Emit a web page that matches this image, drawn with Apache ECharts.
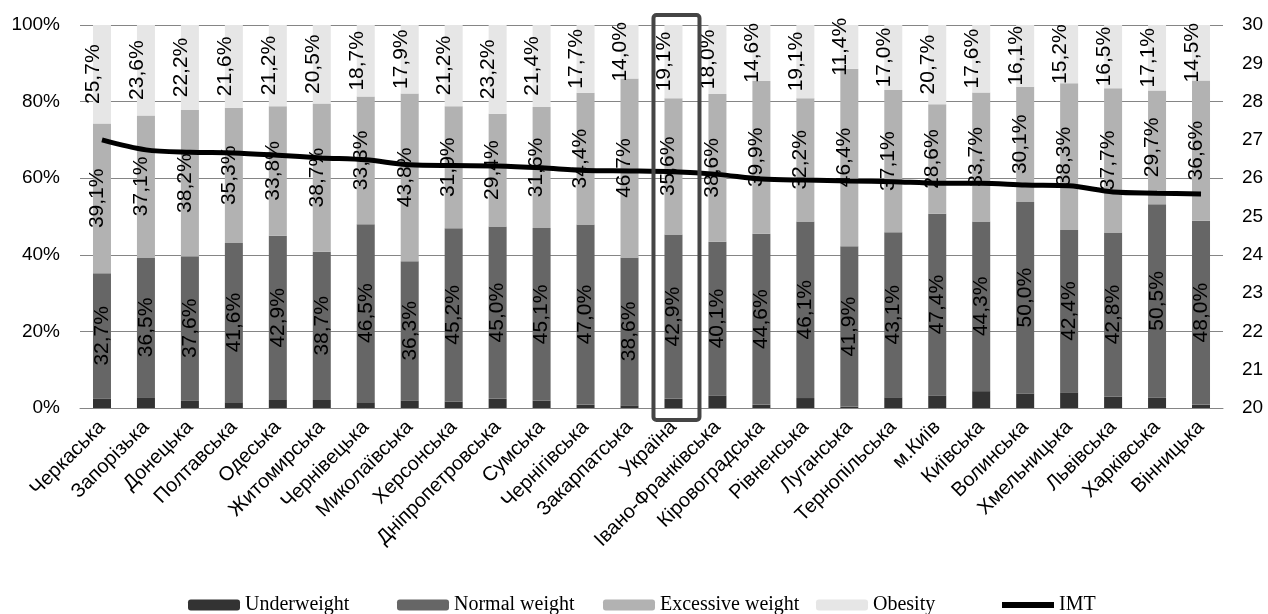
<!DOCTYPE html>
<html>
<head>
<meta charset="utf-8">
<script src="https://cdn.jsdelivr.net/npm/echarts@6/dist/echarts.min.js"></script>
<style>
  html, body { margin: 0; padding: 0; background: #fff; }
  #chart { width: 1268px; height: 614px; }
</style>
</head>
<body>
<div id="chart"></div>
<script>
// Regions of Ukraine, sorted by mean body-mass index (IMT)
const regions = ['Черкаська', 'Запорізька', 'Донецька', 'Полтавська', 'Одеська', 'Житомирська',
  'Чернівецька', 'Миколаївська', 'Херсонська', 'Дніпропетровська', 'Сумська', 'Чернігівська',
  'Закарпатська', 'Україна', 'Івано-Франківська', 'Кіровоградська', 'Рівненська', 'Луганська',
  'Тернопільська', 'м.Київ', 'Київська', 'Волинська', 'Хмельницька', 'Львівська', 'Харківська', 'Вінницька'];

// Share of people in each weight group, %
const underweight = [2.5, 2.8, 2.0, 1.5, 2.1, 2.1, 1.5, 2.0, 1.7, 2.4, 1.9, 0.9, 0.7,
  2.4, 3.3, 0.9, 2.6, 0.3, 2.8, 3.3, 4.4, 3.8, 4.1, 3.0, 2.7, 0.9];
const normalWeight = [32.7, 36.5, 37.6, 41.6, 42.9, 38.7, 46.5, 36.3, 45.2, 45.0, 45.1, 47.0, 38.6,
  42.9, 40.1, 44.6, 46.1, 41.9, 43.1, 47.4, 44.3, 50.0, 42.4, 42.8, 50.5, 48.0];
const excessiveWeight = [39.1, 37.1, 38.2, 35.3, 33.8, 38.7, 33.3, 43.8, 31.9, 29.4, 31.6, 34.4, 46.7,
  35.6, 38.6, 39.9, 32.2, 46.4, 37.1, 28.6, 33.7, 30.1, 38.3, 37.7, 29.7, 36.6];
const obesity = [25.7, 23.6, 22.2, 21.6, 21.2, 20.5, 18.7, 17.9, 21.2, 23.2, 21.4, 17.7, 14.0,
  19.1, 18.0, 14.6, 19.1, 11.4, 17.0, 20.7, 17.6, 16.1, 15.2, 16.5, 17.1, 14.5];

// Mean body-mass index
const imt = [27.0, 26.74, 26.68, 26.66, 26.6, 26.53, 26.48, 26.35, 26.33, 26.32, 26.27, 26.2, 26.19,
  26.17, 26.1, 25.98, 25.95, 25.93, 25.91, 25.87, 25.87, 25.82, 25.8, 25.64, 25.61, 25.59];

const leftTicks = { min: 0, max: 100, interval: 20 };
const rightTicks = { min: 20, max: 30, interval: 1 };
const highlighted = 'Україна';

const sans = 'Liberation Sans, Arial, sans-serif';
const serif = 'Liberation Serif, Times New Roman, serif';

const fmt = p => p.value.toFixed(1).replace('.', ',') + '%';

function barSeries(name, data, color, withLabel, labelOffset) {
  return {
    name: name,
    type: 'bar',
    stack: 'weight',
    data: data,
    barWidth: 18,
    itemStyle: { color: color },
    z: 2,
    label: withLabel ? {
      show: true,
      position: 'inside',
      rotate: 90,
      offset: labelOffset,
      formatter: fmt,
      color: '#000',
      fontFamily: sans,
      fontSize: 21
    } : { show: false }
  };
}

function legendAt(name, left, isLine) {
  return {
    data: [isLine ? { name: name, icon: 'rect', itemStyle: { color: '#000' } } : name],
    left: left,
    top: 595,
    padding: 0,
    itemWidth: 52,
    itemHeight: isLine ? 6 : 11,
    itemGap: 6,
    textStyle: { fontFamily: serif, fontSize: 20, color: '#000' }
  };
}

const chart = echarts.init(document.getElementById('chart'), null, { renderer: 'canvas' });

chart.setOption({
  animation: false,
  backgroundColor: '#fff',
  grid: { left: 80, right: 45, top: 25, bottom: 206 },
  legend: [
    legendAt('Underweight', 188),
    legendAt('Normal weight', 397),
    legendAt('Excessive weight', 603),
    legendAt('Obesity', 816),
    legendAt('IMT', 1002, true)
  ],
  xAxis: {
    type: 'category',
    data: regions,
    axisTick: { show: false },
    axisLine: { lineStyle: { color: '#858585', width: 1 } },
    axisLabel: {
      rotate: 45,
      interval: 0,
      margin: 16,
      color: '#000',
      fontFamily: sans,
      fontSize: 20
    }
  },
  yAxis: [
    {
      type: 'value',
      min: leftTicks.min, max: leftTicks.max, interval: leftTicks.interval,
      axisLine: { show: false },
      axisTick: { show: false },
      splitLine: { lineStyle: { color: '#858585', width: 1 } },
      axisLabel: { formatter: '{value}%', margin: 20, color: '#000', fontFamily: sans, fontSize: 19 }
    },
    {
      type: 'value',
      min: rightTicks.min, max: rightTicks.max, interval: rightTicks.interval,
      axisLine: { show: false },
      axisTick: { show: false },
      splitLine: { show: false },
      axisLabel: { margin: 19, color: '#000', fontFamily: sans, fontSize: 19 }
    }
  ],
  series: [
    barSeries('Underweight', underweight, '#333333', false),
    barSeries('Normal weight', normalWeight, '#666666', true, [0, 0]),
    barSeries('Excessive weight', excessiveWeight, '#b2b2b2', true, [0, -5]),
    barSeries('Obesity', obesity, '#e6e6e6', true, [0, -9]),
    {
      name: 'IMT',
      type: 'line',
      yAxisIndex: 1,
      data: imt,
      smooth: 0.3,
      symbol: 'none',
      z: 10,
      lineStyle: { color: '#000', width: 5 },
      itemStyle: { color: '#000' }
    }
  ]
});

// Frame around the national average column
const cx = chart.convertToPixel({ xAxisIndex: 0 }, highlighted);
const yTop = chart.convertToPixel({ yAxisIndex: 0 }, leftTicks.max);
const yBottom = chart.convertToPixel({ yAxisIndex: 0 }, leftTicks.min);
chart.setOption({
  graphic: [{
    type: 'rect',
    z: 20,
    shape: { x: cx - 20, y: yTop - 10, width: 46, height: (yBottom - yTop) + 22, r: 3 },
    style: { fill: 'none', stroke: '#454545', lineWidth: 4 }
  }]
});
</script>
</body>
</html>
